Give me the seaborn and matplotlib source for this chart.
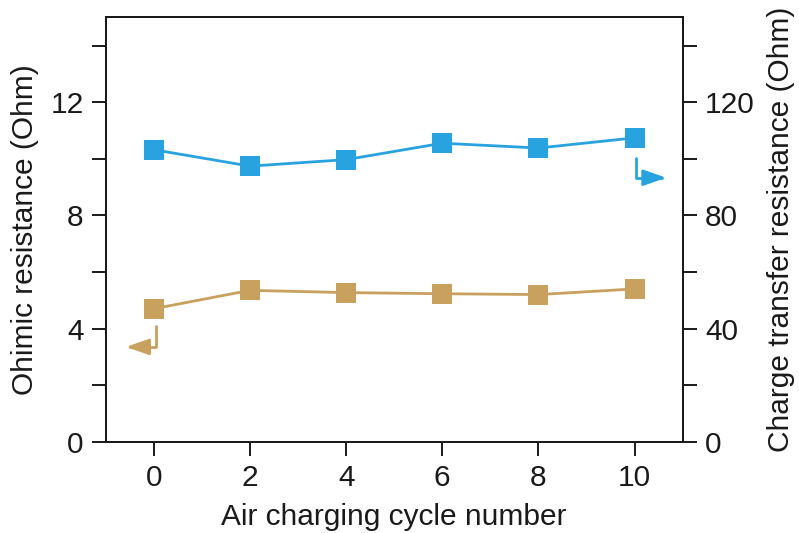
import matplotlib
matplotlib.use('Agg')
import pandas as pd
import matplotlib.pyplot as plt
import seaborn as sns

# Air charging cycles and measured resistances
cycles = [0, 2, 4, 6, 8, 10]
ohmic = [4.70, 5.35, 5.27, 5.23, 5.20, 5.40]
charge_transfer = [103.2, 97.4, 99.7, 105.5, 103.8, 107.4]

df = pd.DataFrame({'cycle': cycles, 'ohmic': ohmic, 'ct': charge_transfer})

tan = '#C9A15F'
blue = '#29A3DF'
ink = '#1a1a1a'

sns.set_style('ticks')
plt.rcParams['font.family'] = ['Liberation Sans', 'DejaVu Sans']
plt.rcParams['axes.linewidth'] = 1.4

fig = plt.figure(figsize=(7.99, 5.33), dpi=100)
ax = fig.add_axes([0.1324, 0.1713, 0.8544 - 0.1324, 0.9675 - 0.1713])
ax2 = ax.twinx()

sns.lineplot(data=df, x='cycle', y='ohmic', ax=ax, color=tan, marker='s',
             markersize=14.5, markeredgewidth=0, linewidth=2)
sns.lineplot(data=df, x='cycle', y='ct', ax=ax2, color=blue, marker='s',
             markersize=14.5, markeredgewidth=0, linewidth=2)

ax.set_xlim(-1, 11)
ax.set_ylim(0, 15)
ax2.set_ylim(0, 150)
ax.set_xticks(cycles)
ax.set_yticks([0, 4, 8, 12])
ax.set_yticks([2, 6, 10, 14], minor=True)
ax2.set_yticks([0, 40, 80, 120])
ax2.set_yticks([20, 60, 100, 140], minor=True)

for a in (ax, ax2):
    a.tick_params(which='both', direction='out', length=10, width=1.4,
                  color=ink, labelsize=21.5, pad=6, labelcolor=ink)
    for s in a.spines.values():
        s.set_visible(True)
        s.set_color(ink)

ax.set_xlabel('Air charging cycle number', fontsize=21.5, color=ink, labelpad=8)
ax.set_ylabel('Ohimic resistance (Ohm)', fontsize=21.5, color=ink, labelpad=8)
ax2.set_ylabel('Charge transfer resistance (Ohm)', fontsize=21.5, color=ink, labelpad=9)

# axis pointer arrows
ax.annotate('', xy=(-0.58, 3.35), xytext=(0.05, 4.08),
            arrowprops=dict(arrowstyle='-|>,head_length=1.0,head_width=0.35',
                            connectionstyle='angle,angleA=90,angleB=0,rad=0',
                            color=tan, lw=2, shrinkA=0, shrinkB=0,
                            mutation_scale=14))
ax2.annotate('', xy=(10.66, 93.3), xytext=(10.03, 100.2),
             arrowprops=dict(arrowstyle='-|>,head_length=1.0,head_width=0.35',
                             connectionstyle='angle,angleA=90,angleB=0,rad=0',
                             color=blue, lw=2, shrinkA=0, shrinkB=0,
                             mutation_scale=14))

fig.savefig('out.png', dpi=100)
